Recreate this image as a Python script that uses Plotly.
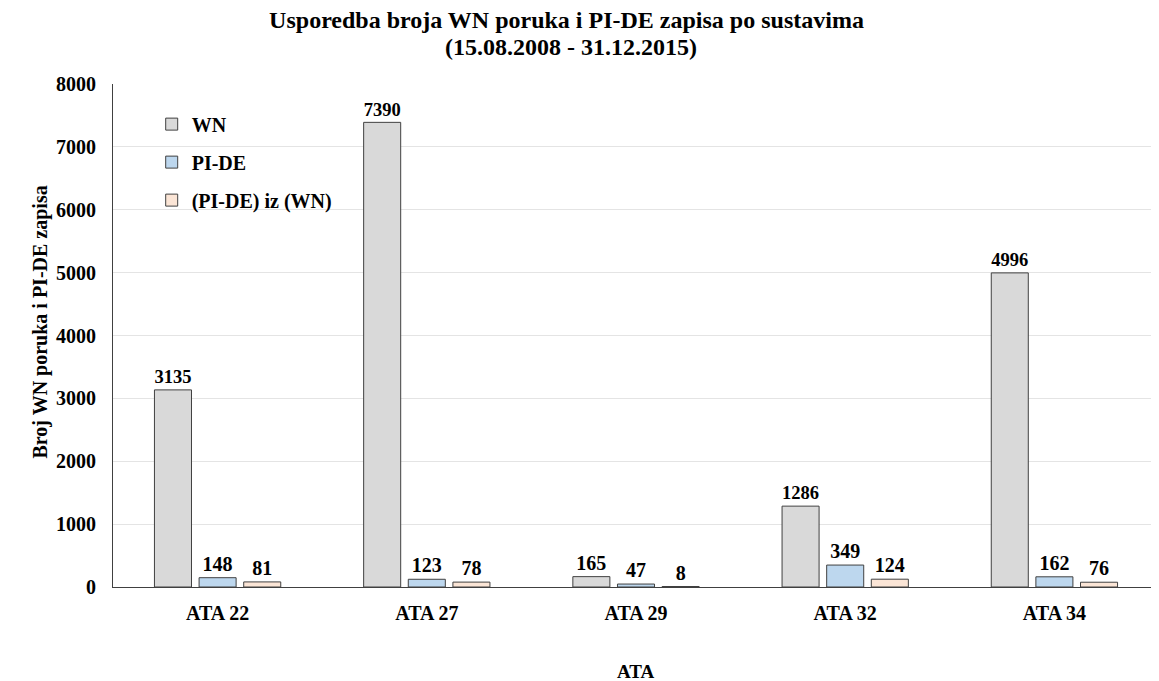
import plotly.graph_objects as go

categories = ["ATA 22", "ATA 27", "ATA 29", "ATA 32", "ATA 34"]
wn = [3135, 7390, 165, 1286, 4996]
pide = [148, 123, 47, 349, 162]
pide_iz_wn = [81, 78, 8, 124, 76]
y_ticks = [0, 1000, 2000, 3000, 4000, 5000, 6000, 7000, 8000]

FONT = "Liberation Serif"
series = [
    ("WN", wn, "#d9d9d9"),
    ("PI-DE", pide, "#bdd7ee"),
    ("(PI-DE) iz (WN)", pide_iz_wn, "#fbe5d6"),
]

W, H = 1151, 673
L, T, R, B = 105, 76, 0, 94
PW = W - L - R

def bfont(size):
    return dict(family=FONT, size=size, color="black", weight="bold")

fig = go.Figure()
for i, (name, vals, col) in enumerate(series):
    fig.add_trace(go.Bar(
        x=categories, y=vals, name=name, legendgroup=f"g{i}",
        marker=dict(color=col, line=dict(color="#404040", width=1)),
        text=[str(v) for v in vals], textposition="outside",
        textfont=bfont(20),
        cliponaxis=False,
    ))

fig.update_layout(
    width=W, height=H,
    margin=dict(l=L, r=R, t=T, b=B, autoexpand=False),
    paper_bgcolor="white", plot_bgcolor="white",
    barmode="group", bargap=0.36, bargroupgap=0.17,
    font=dict(family=FONT, color="black"),
    title=dict(
        text="Usporedba broja WN poruka i PI-DE zapisa po sustavima",
        x=558.5 / W, xref="container", xanchor="center",
        y=1 - 12 / H, yref="container", yanchor="middle",
        font=bfont(24),
    ),
    showlegend=True,
    legend=dict(
        x=0.037, y=0.959, xanchor="left", yanchor="top",
        bgcolor="rgba(0,0,0,0)", tracegroupgap=9,
        font=bfont(20),
        itemwidth=30,
    ),
    xaxis=dict(
        tickfont=bfont(20),
        showline=True, linecolor="#404040", linewidth=1,
        ticks="", showgrid=False, automargin=False,
        ticklabelstandoff=8,
    ),
    yaxis=dict(
        tickfont=bfont(20),
        range=[0, 8000], tickvals=y_ticks,
        showline=True, linecolor="#404040", linewidth=1,
        showgrid=True, gridcolor="#e4e4e4", gridwidth=1,
        zeroline=False, ticks="", automargin=False,
        ticklabelstandoff=12,
    ),
    annotations=[
        dict(text="(15.08.2008 - 31.12.2015)", xref="paper", yref="paper",
             x=(563 - L) / PW, y=1, yshift=T - 39, xanchor="center",
             yanchor="middle", showarrow=False, font=bfont(24)),
        dict(text="ATA", xref="paper", yref="paper", x=0.5, y=0, yshift=-84,
             xanchor="center", yanchor="middle", showarrow=False, font=bfont(19)),
        dict(text="Broj WN poruka i PI-DE zapisa", xref="paper", yref="paper",
             x=0, xshift=-73, y=0.5, yshift=13, xanchor="center", yanchor="middle",
             textangle=-90, showarrow=False, font=bfont(20)),
    ],
)

fig.write_html("out.html")
